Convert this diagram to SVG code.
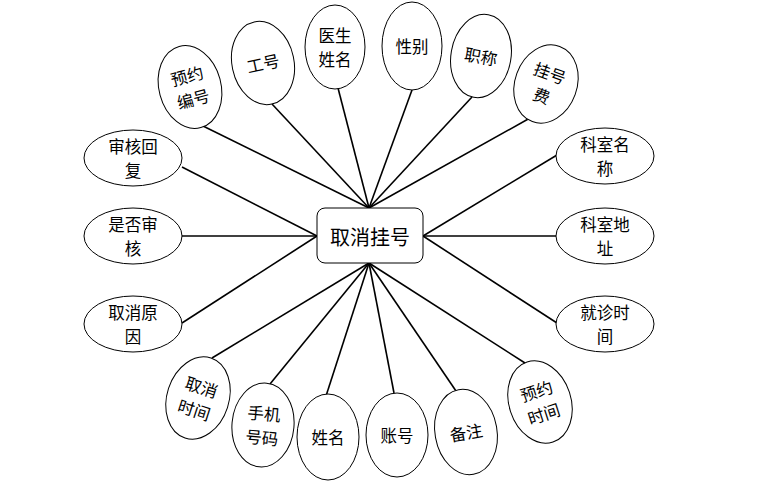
<svg xmlns="http://www.w3.org/2000/svg" width="776" height="497" viewBox="0 0 776 497">
<style>
.e{fill:#fff;stroke:#000;stroke-width:1}
.t{font-family:"Noto Sans CJK SC","Noto Sans",sans-serif;font-size:16.5px;fill:#000;text-anchor:middle;dominant-baseline:central}
.c line{stroke:#000;stroke-width:1.6}
</style>
<rect width="776" height="497" fill="#fff"/>
<g id="connectors" class="c">
<line x1="203" y1="126" x2="369" y2="208"/>
<line x1="272" y1="104" x2="369" y2="208"/>
<line x1="338" y1="88" x2="369" y2="208"/>
<line x1="412" y1="90" x2="369" y2="208"/>
<line x1="472" y1="97" x2="369" y2="208"/>
<line x1="530" y1="118" x2="369" y2="208"/>
<line x1="557" y1="155" x2="423" y2="236"/>
<line x1="556" y1="236" x2="423" y2="236"/>
<line x1="557" y1="323" x2="423" y2="236"/>
<line x1="182" y1="167" x2="317" y2="236"/>
<line x1="182" y1="236" x2="317" y2="236"/>
<line x1="182" y1="323" x2="317" y2="236"/>
<line x1="212" y1="358" x2="369" y2="263"/>
<line x1="270" y1="384" x2="369" y2="263"/>
<line x1="326" y1="396" x2="369" y2="263"/>
<line x1="394" y1="393" x2="369" y2="263"/>
<line x1="456" y1="391" x2="369" y2="263"/>
<line x1="525" y1="363" x2="369" y2="263"/>
</g>
<g id="center">
<rect x="317" y="208" width="106" height="55" rx="8" fill="#fff" stroke="#000" stroke-width="1"/>
<text class="t" x="370" y="236" style="font-size:20px">取消挂号</text>
</g>
<g id="n1" transform="translate(190,87) rotate(-15)"><ellipse class="e" rx="31" ry="42"/><text class="t" y="-12">预约</text><text class="t" y="12">编号</text></g>
<g id="n2" transform="translate(263,63) rotate(-12)"><ellipse class="e" rx="31" ry="42"/><text class="t">工号</text></g>
<g id="n3" transform="translate(335,47)"><ellipse class="e" rx="30" ry="42"/><text class="t" y="-12">医生</text><text class="t" y="12">姓名</text></g>
<g id="n4" transform="translate(412,46)"><ellipse class="e" rx="30" ry="44"/><text class="t">性别</text></g>
<g id="n5" transform="translate(481,56) rotate(10)"><ellipse class="e" rx="30" ry="42"/><text class="t">职称</text></g>
<g id="n6" transform="translate(546,84) rotate(20)"><ellipse class="e" rx="31" ry="40"/><text class="t" y="-12">挂号</text><text class="t" y="12">费</text></g>
<g id="n7" transform="translate(605,156)"><ellipse class="e" rx="49" ry="28"/><text class="t" y="-12">科室名</text><text class="t" y="12">称</text></g>
<g id="n8" transform="translate(605,236)"><ellipse class="e" rx="49" ry="28"/><text class="t" y="-12">科室地</text><text class="t" y="12">址</text></g>
<g id="n9" transform="translate(605,324)"><ellipse class="e" rx="49" ry="28"/><text class="t" y="-12">就诊时</text><text class="t" y="12">间</text></g>
<g id="n10" transform="translate(133,158)"><ellipse class="e" rx="49" ry="28"/><text class="t" y="-12">审核回</text><text class="t" y="12">复</text></g>
<g id="n11" transform="translate(133,236)"><ellipse class="e" rx="49" ry="28"/><text class="t" y="-12">是否审</text><text class="t" y="12">核</text></g>
<g id="n12" transform="translate(133,324)"><ellipse class="e" rx="49" ry="28"/><text class="t" y="-12">取消原</text><text class="t" y="12">因</text></g>
<g id="n13" transform="translate(198,398) rotate(18)"><ellipse class="e" rx="31" ry="42"/><text class="t" y="-12">取消</text><text class="t" y="12">时间</text></g>
<g id="n14" transform="translate(263,425) rotate(5)"><ellipse class="e" rx="31" ry="42"/><text class="t" y="-12">手机</text><text class="t" y="12">号码</text></g>
<g id="n15" transform="translate(328,437)"><ellipse class="e" rx="31" ry="43"/><text class="t">姓名</text></g>
<g id="n16" transform="translate(397,435)"><ellipse class="e" rx="31" ry="42"/><text class="t">账号</text></g>
<g id="n17" transform="translate(466,432) rotate(-10)"><ellipse class="e" rx="31" ry="43"/><text class="t">备注</text></g>
<g id="n18" transform="translate(540,402) rotate(-18)"><ellipse class="e" rx="31" ry="42"/><text class="t" y="-12">预约</text><text class="t" y="12">时间</text></g>
</svg>
